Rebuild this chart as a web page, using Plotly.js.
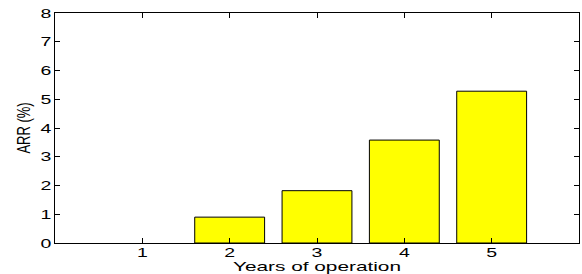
<!DOCTYPE html>
<html><head><meta charset="utf-8">
<script src="https://cdn.plot.ly/plotly-3.0.1.min.js"></script>
<style>html,body{margin:0;padding:0;background:#fff}#chart{width:582px;height:274px}</style>
</head><body><div id="chart"></div>
<script>
var years = [1, 2, 3, 4, 5];
var arr = [0, 0.90, 1.82, 3.58, 5.28];
var xTicks = [1, 2, 3, 4, 5];
var yTicks = [0, 1, 2, 3, 4, 5, 6, 7, 8];

var font = {family: '"Liberation Sans", Arial, sans-serif', size: 13, color: '#000'};
var trace = {
  type: 'bar', x: years, y: arr, width: 0.8,
  marker: {color: '#ffff00', line: {color: '#000', width: arr.map(function (v) { return v > 0 ? 1 : 0; })}},
  hoverinfo: 'none'
};
var layout = {
  width: 582, height: 274,
  margin: {l: 55, r: 3, t: 13, b: 31, pad: 0},
  paper_bgcolor: '#fff', plot_bgcolor: '#fff',
  font: font, showlegend: false,
  xaxis: {
    range: [0, 6], tickvals: xTicks, ticktext: xTicks.map(String),
    ticks: 'inside', ticklen: 5, tickcolor: '#000', tickwidth: 1,
    showline: true, linecolor: '#000', linewidth: 1, mirror: 'ticks',
    showgrid: false, zeroline: false, tickfont: font, ticklabelstandoff: -3,
    title: {text: 'Years of operation', font: font, standoff: 0}
  },
  yaxis: {
    range: [0, 8], tickvals: yTicks, ticktext: yTicks.map(String),
    ticks: 'inside', ticklen: 5, tickcolor: '#000', tickwidth: 1,
    showline: true, linecolor: '#000', linewidth: 1, mirror: 'ticks',
    showgrid: false, zeroline: false, tickfont: font,
    title: {text: 'ARR (%)', font: font, standoff: 12}
  }
};

function stretch(el, s, anchor) {
  var b = el.getBBox();
  var lx = anchor === 'right' ? b.x + b.width : b.x + b.width / 2;
  var ly = b.y + b.height / 2;
  var t = el.transform.baseVal.consolidate();
  var px = t ? t.matrix.a * lx + t.matrix.c * ly + t.matrix.e : lx;
  var old = el.getAttribute('transform') || '';
  el.setAttribute('transform', 'translate(' + px + ',0) scale(' + s + ',1) translate(' + (-px) + ',0) ' + old);
}

Plotly.newPlot('chart', [trace], layout, {staticPlot: true, displayModeBar: false}).then(function (gd) {
  gd.querySelectorAll('.xtick text').forEach(function (el) { stretch(el, 1.5, 'center'); });
  gd.querySelectorAll('.ytick text').forEach(function (el) { stretch(el, 1.5, 'right'); });
  gd.querySelectorAll('.g-xtitle text').forEach(function (el) { stretch(el, 1.6, 'center'); });
  gd.querySelectorAll('.g-ytitle text').forEach(function (el) { stretch(el, 1.4, 'center'); });
});
</script></body></html>
